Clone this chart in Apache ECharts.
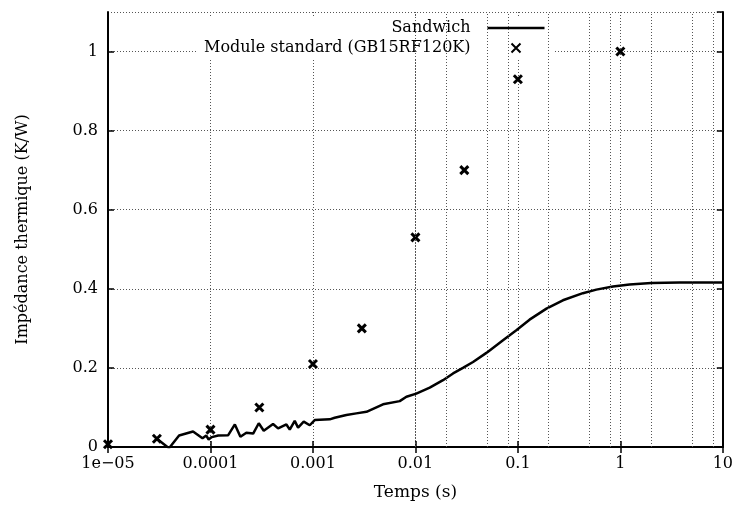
<!DOCTYPE html>
<html>
<head>
<meta charset="utf-8">
<script src="https://cdn.jsdelivr.net/npm/echarts@6/dist/echarts.min.js"></script>
<style>
  html, body { margin: 0; padding: 0; background: #fff; }
  #chart { width: 736px; height: 510px; }
</style>
</head>
<body>
<div id="chart"></div>
<script>
// Thermal impedance step response of the sandwich assembly (s, K/W)
const sandwichTime = [3.0e-5, 3.94e-5, 4.94e-5, 6.76e-5, 8.36e-5, 9.1e-5, 9.6e-5, 1.03e-4, 1.19e-4, 1.49e-4,
  1.73e-4, 1.96e-4, 2.24e-4, 2.61e-4, 2.96e-4, 3.31e-4, 4.08e-4, 4.57e-4, 5.51e-4, 5.94e-4,
  6.64e-4, 7.16e-4, 8.13e-4, 9.31e-4, 1.04e-3, 1.46e-3, 1.63e-3, 2.12e-3, 2.65e-3, 3.33e-3,
  4.83e-3, 7.03e-3, 8.17e-3, 1.02e-2, 1.38e-2, 1.86e-2, 2.33e-2, 2.91e-2, 3.65e-2, 4.93e-2,
  7.16e-2, 9.66e-2, 0.13, 0.19, 0.275, 0.431, 0.583, 0.847, 1.23, 2.0, 3.79, 10];
const sandwichZth = [0.021, -0.003, 0.029, 0.039, 0.022, 0.029, 0.019, 0.025, 0.029, 0.030,
  0.057, 0.026, 0.036, 0.034, 0.060, 0.041, 0.058, 0.047, 0.057, 0.044,
  0.066, 0.049, 0.064, 0.055, 0.068, 0.070, 0.074, 0.081, 0.085, 0.089,
  0.108, 0.116, 0.127, 0.135, 0.150, 0.169, 0.186, 0.200, 0.215, 0.238,
  0.270, 0.295, 0.322, 0.350, 0.371, 0.389, 0.398, 0.406, 0.411, 0.415, 0.416, 0.416];

// Datasheet curve of the standard module
const moduleTime = [1e-5, 3e-5, 1e-4, 3e-4, 1e-3, 3e-3, 1e-2, 3e-2, 1e-1, 1];
const moduleZth = [0.007, 0.021, 0.044, 0.100, 0.210, 0.300, 0.530, 0.700, 0.930, 1.000];

const seriesNames = ['Sandwich', 'Module standard (GB15RF120K)'];
const xTickLabels = ['1e\u221205', '0.0001', '0.001', '0.01', '0.1', '1', '10'];
const xMinorMultipliers = [2, 5, 8];

const FONT = 'DejaVu Serif';
const crossPath = 'path://M0,0L10,10M10,0L0,10';
const lineKeyPath = 'path://M0,0H57V2.6H0Z';
const gridDots = { color: '#555', type: [1, 2], width: 1 };

// extra vertical grid lines inside each decade
const minorGrid = [];
for (let e = -5; e < 1; e++) {
  xMinorMultipliers.forEach(m => minorGrid.push({ xAxis: m * Math.pow(10, e) }));
}

const chart = echarts.init(document.getElementById('chart'), null, { renderer: 'canvas' });

const axisLineStyle = { show: true, lineStyle: { color: '#000', width: 2 } };
const tickStyle = { show: true, inside: true, length: 6, lineStyle: { color: '#000', width: 1.5 } };

chart.setOption({
  animation: false,
  backgroundColor: '#fff',
  grid: { left: 108, right: 12, top: 12, bottom: 63 },
  legend: {
    data: [{ name: seriesNames[0], icon: lineKeyPath }, { name: seriesNames[1], icon: crossPath }],
    orient: 'vertical',
    align: 'right',
    left: 198,
    top: 17,
    itemWidth: 57,
    itemHeight: 9,
    itemGap: 0,
    padding: [1, 10, 1, 6],
    backgroundColor: '#fff',
    selectedMode: false,
    itemStyle: { opacity: 1 },
    textStyle: { fontFamily: FONT, fontSize: 16, color: '#000', lineHeight: 20, padding: [0, 12, 0, 0] }
  },
  xAxis: [{
    type: 'log',
    logBase: 10,
    min: 1e-5,
    max: 10,
    splitNumber: 6,
    position: 'bottom',
    name: 'Temps (s)',
    nameLocation: 'middle',
    nameGap: 37,
    nameTextStyle: { fontFamily: FONT, fontSize: 17, color: '#000' },
    axisLine: axisLineStyle,
    axisTick: tickStyle,
    axisLabel: {
      fontFamily: FONT, fontSize: 16, color: '#000', margin: 9,
      formatter: v => xTickLabels[Math.round(Math.log10(v)) + 5]
    },
    splitLine: { show: true, lineStyle: gridDots }
  }, {
    type: 'log',
    logBase: 10,
    min: 1e-5,
    max: 10,
    splitNumber: 6,
    position: 'top',
    axisLine: axisLineStyle,
    axisTick: tickStyle,
    axisLabel: { show: false },
    splitLine: { show: false }
  }],
  yAxis: [{
    type: 'value',
    min: 0,
    max: 1.1,
    interval: 0.2,
    position: 'left',
    name: 'Impédance thermique (K/W)',
    nameLocation: 'middle',
    nameGap: 77,
    nameTextStyle: { fontFamily: FONT, fontSize: 16, color: '#000' },
    axisLine: axisLineStyle,
    axisTick: tickStyle,
    axisLabel: { fontFamily: FONT, fontSize: 16, color: '#000', margin: 10, showMaxLabel: false },
    splitLine: { show: true, lineStyle: gridDots }
  }, {
    type: 'value',
    min: 0,
    max: 1.1,
    interval: 0.2,
    position: 'right',
    axisLine: axisLineStyle,
    axisTick: tickStyle,
    axisLabel: { show: false },
    splitLine: { show: false }
  }],
  series: [{
    name: seriesNames[0],
    type: 'line',
    xAxisIndex: 0,
    yAxisIndex: 0,
    symbol: 'none',
    clip: true,
    lineStyle: { color: '#000', width: 2.5 },
    itemStyle: { color: '#000' },
    data: sandwichTime.map((t, i) => [t, sandwichZth[i]]),
    markLine: {
      silent: true,
      symbol: ['none', 'none'],
      label: { show: false },
      lineStyle: gridDots,
      emphasis: { disabled: true },
      data: minorGrid
    },
    z: 3
  }, {
    name: seriesNames[1],
    type: 'scatter',
    xAxisIndex: 0,
    yAxisIndex: 0,
    symbol: crossPath,
    symbolSize: 8,
    itemStyle: { color: '#000', borderColor: '#000', borderWidth: 3, opacity: 1 },
    data: moduleTime.map((t, i) => [t, moduleZth[i]]),
    z: 3
  }]
});
</script>
</body>
</html>
